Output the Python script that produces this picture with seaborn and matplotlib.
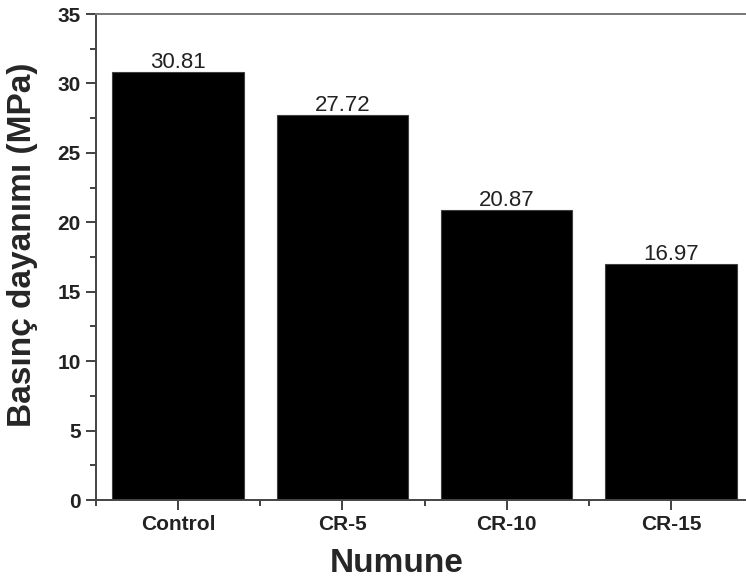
import numpy as np
import pandas as pd
import matplotlib
matplotlib.use("Agg")
import matplotlib.pyplot as plt
import seaborn as sns
from matplotlib.ticker import MultipleLocator

# data
samples = ["Control", "CR-5", "CR-10", "CR-15"]
strength = [30.81, 27.72, 20.87, 16.97]

df = pd.DataFrame({"Numune": samples, "strength": strength})

sns.set_style("ticks")
plt.rcParams["font.family"] = ["Liberation Sans", "DejaVu Sans"]

fig = plt.figure(figsize=(7.46, 5.84), dpi=100)
ax = fig.add_axes([96 / 746, 84 / 584, 657 / 746, 486 / 584])

sns.barplot(data=df, x="Numune", y="strength", color="black", saturation=1,
            width=0.8, edgecolor="#404040", linewidth=0.8, ax=ax)

for i, v in enumerate(strength):
    ax.text(i, v - 0.05, f"{v:.2f}", ha="center", va="bottom", fontsize=16,
            color="#222222")

ax.set_xlim(-0.5, 3.5)
ax.set_ylim(0, 35)
ax.yaxis.set_major_locator(MultipleLocator(5))
ax.yaxis.set_minor_locator(MultipleLocator(2.5))
ax.set_xticks([-0.5, 0.5, 1.5, 2.5, 3.5], minor=True)

ax.tick_params(axis="both", which="major", direction="out", length=7, width=1.3,
               color="#333333", labelsize=15, pad=4)
ax.tick_params(axis="both", which="minor", direction="out", length=4, width=1.3,
               color="#333333")
for lab in ax.get_xticklabels() + ax.get_yticklabels():
    lab.set_fontweight("bold")
    lab.set_color("#222222")

for side in ["left", "bottom", "top", "right"]:
    ax.spines[side].set_visible(True)
    ax.spines[side].set_linewidth(1.4)
    ax.spines[side].set_color("#444444")
ax.spines["top"].set_color("#777777")

ax.set_xlabel("Numune", fontsize=24, fontweight="bold")
ax.set_ylabel("Basınç dayanımı (MPa)", fontsize=24, fontweight="bold")
ax.xaxis.set_label_coords(0.458, -0.098)
ax.yaxis.set_label_coords(-0.088, 0.525)

fig.savefig("out.png", dpi=100)
